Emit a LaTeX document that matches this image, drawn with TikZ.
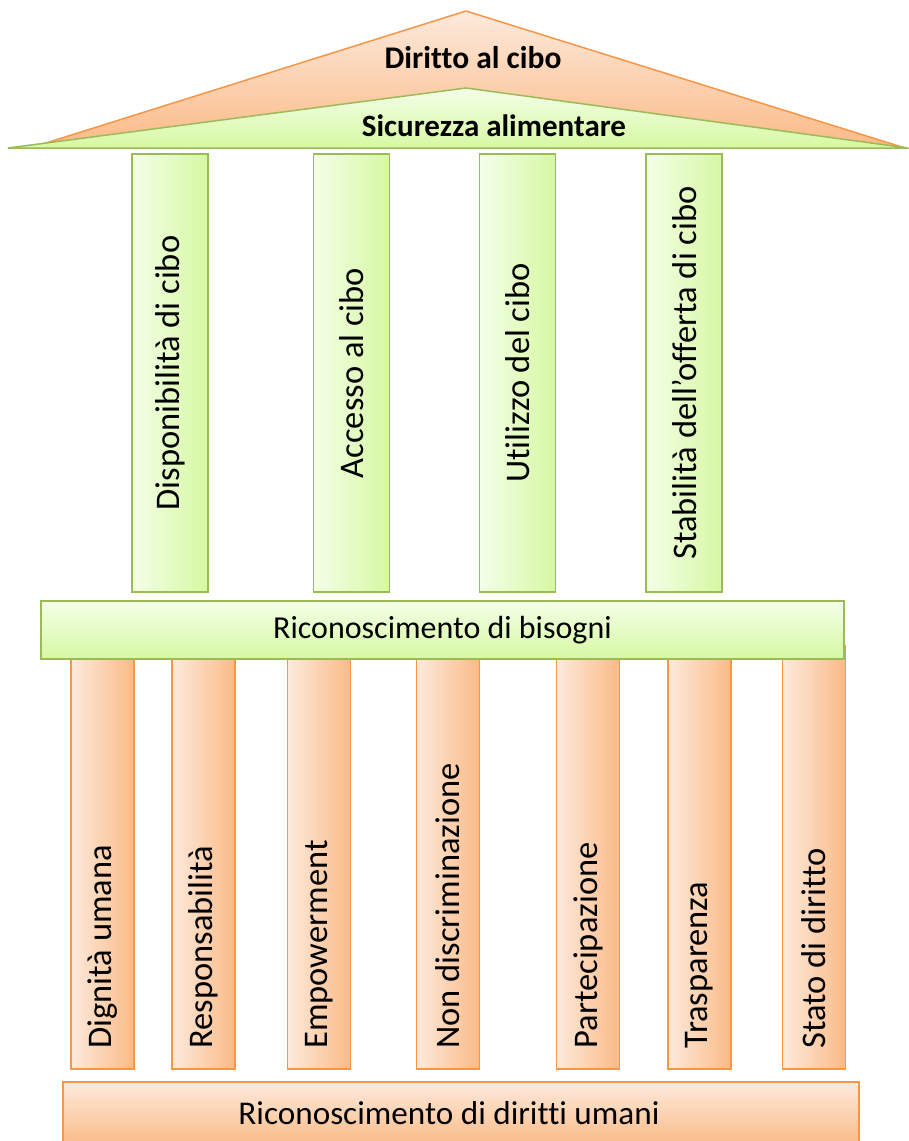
\documentclass[tikz,border=0pt]{standalone}
\usepackage{fontspec}
\setmainfont{Carlito}[Ligatures=NoCommon]
\definecolor{gline}{RGB}{155,187,89}
\definecolor{oline}{RGB}{247,150,70}
\definecolor{glight}{RGB}{244,255,232}
\definecolor{gdark}{RGB}{214,248,162}
\definecolor{olight}{RGB}{253,234,220}
\definecolor{odark}{RGB}{251,186,134}
\tikzset{
  gcol/.style={draw=gline, line width=1.6pt, left color=glight, right color=gdark, minimum width=76pt, minimum height=438pt, inner sep=0pt},
  ocol/.style={draw=oline, line width=1.6pt, left color=olight, right color=odark, minimum width=63pt, inner sep=0pt},
  gbeam/.style={draw=gline, line width=1.8pt, top color=glight, bottom color=gdark, inner sep=0pt},
  obeam/.style={draw=oline, line width=1.6pt, top color=olight, bottom color=odark, inner sep=0pt},
  coltext/.style={font=\fontsize{34.5}{39}\selectfont, rotate=90, inner sep=0pt},
  beamtext/.style={font=\fontsize{32}{36}\selectfont, inner sep=0pt},
  rooftext/.style={font=\bfseries, inner sep=0pt}
}
\begin{document}
\begin{tikzpicture}[x=1pt,y=-1pt]
\useasboundingbox (0,0) rectangle (909,1141);
\clip (0,0) rectangle (909,1141);
% roof
\shade[top color=olight, bottom color=odark, draw=oline, line width=1.5pt] (466,11) -- (905,148) -- (30,148) -- cycle;
\shade[top color=glight, bottom color=gdark, draw=gline, line width=1.5pt] (466,88) -- (908,148) -- (8,148) -- cycle;
\node[rooftext, font=\fontsize{31.5}{36}\selectfont\bfseries] (roof1) at (473,58) {Diritto al cibo};
\node[rooftext, font=\fontsize{31}{35}\selectfont\bfseries] (roof2) at (494,126) {Sicurezza alimentare};
% green columns
\node[gcol] (g1) at (170,373) {};
\node[gcol] (g2) at (351.5,373) {};
\node[gcol] (g3) at (517.5,373) {};
\node[gcol] (g4) at (684,373) {};
\node[coltext] (g1t) at (g1.center) {Disponibilità di cibo};
\node[coltext] (g2t) at (g2.center) {Accesso al cibo};
\node[coltext] (g3t) at (g3.center) {Utilizzo del cibo};
\node[coltext] (g4t) at (g4.center) {Stabilità dell’offerta di cibo};
% orange columns
\node[ocol, minimum height=414pt] (o1) at (102.5,862) {};
\node[ocol, minimum height=414pt] (o2) at (203.5,862) {};
\node[ocol, minimum height=414pt] (o3) at (319,862) {};
\node[ocol, minimum height=414pt] (o4) at (448,862) {};
\node[ocol, minimum height=414pt] (o5) at (588,862) {};
\node[ocol, minimum height=414pt] (o6) at (699.5,862) {};
\node[ocol, minimum height=423pt] (o7) at (814,857.5) {};
\foreach \n/\t in {o1/Dignità umana, o2/Responsabilità, o3/Empowerment, o4/Non discriminazione, o5/Partecipazione, o6/Trasparenza, o7/Stato di diritto}{
  \node[coltext, anchor=west] (\n t) at ([yshift=21pt]\n.south) {\t};
}
% beams
\node[gbeam, minimum width=803pt, minimum height=58pt] (gb) at (442.5,630) {};
\node[beamtext] (gbt) at (gb.center) {Riconoscimento di bisogni};
\node[obeam, minimum width=796pt, minimum height=64pt] (ob) at (461,1114) {};
\node[beamtext, font=\fontsize{33.2}{37}\selectfont] (obt) at (449,1113) {Riconoscimento di diritti umani};
\end{tikzpicture}
\end{document}
